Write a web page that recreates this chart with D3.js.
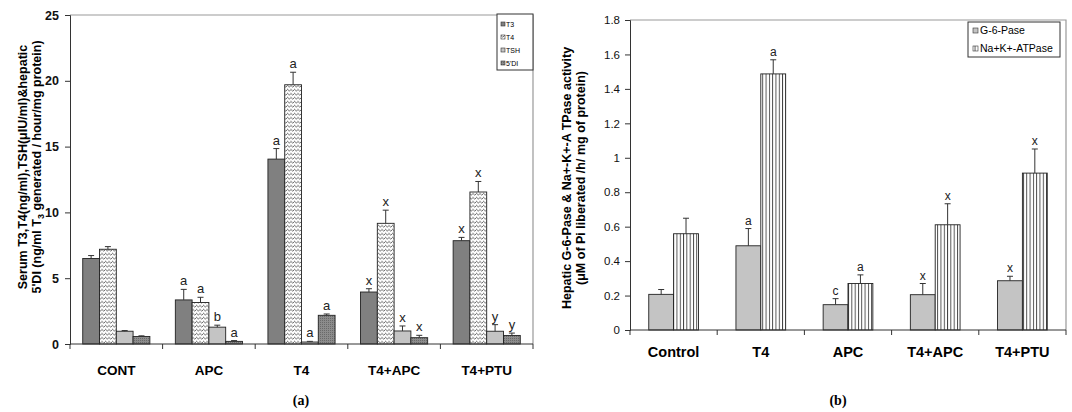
<!DOCTYPE html>
<html>
<head>
<meta charset="utf-8">
<script src="https://cdn.jsdelivr.net/npm/d3@7"></script>
<style>
  body { margin: 0; background: #fff; }
  text { font-family: "Liberation Sans", Arial, sans-serif; }
</style>
</head>
<body>
<script>
const width = 1072, height = 412;

// panel (a): thyroid hormones and 5'DI
const groupsA = ["CONT", "APC", "T4", "T4+APC", "T4+PTU"];
const seriesA = ["T3", "T4", "TSH", "5'DI"];
const meanT3 = [6.5, 3.35, 14.05, 3.95, 7.85];
const errT3 = [0.22, 0.8, 0.8, 0.25, 0.25];
const meanT4 = [7.2, 3.15, 19.7, 9.17, 11.55];
const errT4 = [0.2, 0.4, 0.95, 1.0, 0.8];
const meanTSH = [0.97, 1.28, 0.15, 0.99, 0.97];
const errTSH = [0.05, 0.15, 0.05, 0.38, 0.5];
const meanDI = [0.57, 0.2, 2.18, 0.48, 0.65];
const errDI = [0.05, 0.06, 0.1, 0.18, 0.18];
const lettersT3 = ["", "a", "a", "x", "x"];
const lettersT4 = ["", "a", "a", "x", "x"];
const lettersTSH = ["", "b", "a", "x", "y"];
const lettersDI = ["", "a", "a", "x", "y"];
const ticksA = [0, 5, 10, 15, 20, 25];

// panel (b): G-6-Pase and Na+K+-ATPase
const groupsB = ["Control", "T4", "APC", "T4+APC", "T4+PTU"];
const seriesB = ["G-6-Pase", "Na+K+-ATPase"];
const meanG6P = [0.207, 0.489, 0.147, 0.205, 0.286];
const errG6P = [0.028, 0.1, 0.035, 0.065, 0.026];
const meanNaK = [0.559, 1.487, 0.27, 0.611, 0.911];
const errNaK = [0.09, 0.082, 0.05, 0.122, 0.14];
const lettersG6P = ["", "a", "c", "x", "x"];
const lettersNaK = ["", "a", "a", "x", "x"];
const ticksB = [0, 0.2, 0.4, 0.6, 0.8, 1, 1.2, 1.4, 1.6, 1.8];

const svg = d3.select('body').append('svg')
  .attr('width', width)
  .attr('height', height);

// fill patterns
const defs = svg.append('defs');
const wave = defs.append('pattern').attr('id', 'wave')
  .attr('patternUnits', 'userSpaceOnUse').attr('width', 3.5).attr('height', 4);
wave.append('rect').attr('width', 3.5).attr('height', 4).attr('fill', '#fff');
wave.append('path').attr('d', 'M0,0.8 L2.3,3.2 L3.5,2')
  .attr('fill', 'none').attr('stroke', '#444').attr('stroke-width', 0.8);

const dots = defs.append('pattern').attr('id', 'dots')
  .attr('patternUnits', 'userSpaceOnUse').attr('width', 2).attr('height', 2);
dots.append('rect').attr('width', 2).attr('height', 2).attr('fill', '#8c8c8c');
dots.append('rect').attr('width', 1).attr('height', 1).attr('fill', '#6a6a6a');

const vlines = defs.append('pattern').attr('id', 'vlines')
  .attr('patternUnits', 'userSpaceOnUse').attr('width', 3.3).attr('height', 4);
vlines.append('rect').attr('width', 3.3).attr('height', 4).attr('fill', '#fff');
vlines.append('line').attr('x1', 0.5).attr('x2', 0.5).attr('y1', 0).attr('y2', 4)
  .attr('stroke', '#111').attr('stroke-width', 0.8);

// ---------- panel (a) ----------
const mA = { left: 70, right: 533, top: 15, bottom: 344 };
const xA = d3.scaleBand().domain(groupsA).range([mA.left, mA.right]).paddingInner(0.275).paddingOuter(0.1375);
const xA0 = d3.scaleBand().domain(seriesA).range([0, xA.bandwidth()]);
const yA = d3.scaleLinear().domain([0, 25]).range([mA.bottom, mA.top]);

const fillsA = ['#808080', 'url(#wave)', '#c4c4c4', 'url(#dots)'];
const rowsA = [];
groupsA.forEach((g, i) => {
  [[meanT3, errT3, lettersT3], [meanT4, errT4, lettersT4], [meanTSH, errTSH, lettersTSH], [meanDI, errDI, lettersDI]]
    .forEach(([m, e, l], j) => rowsA.push({ g, s: seriesA[j], j, v: m[i], e: e[i], l: l[i] }));
});

const gA = svg.append('g');
// plot frame
gA.append('path')
  .attr('d', `M${mA.left},${mA.top}H${mA.right}V${mA.bottom}`)
  .attr('fill', 'none').attr('stroke', '#999').attr('stroke-width', 1.2);

drawBars(gA, rowsA, xA, xA0, yA, fillsA, 13);

gA.append('g').attr('transform', `translate(0,${mA.bottom})`)
  .call(d3.axisBottom(xA).tickSize(0).tickFormat(''))
  .call(g => g.select('.domain').attr('stroke', '#333').attr('d', `M${mA.left},0H${mA.right}`));
// category separators
gA.selectAll('line.sep').data(d3.range(groupsA.length + 1)).join('line')
  .attr('x1', i => mA.left + i * xA.step()).attr('x2', i => mA.left + i * xA.step())
  .attr('y1', mA.bottom).attr('y2', mA.bottom + 5).attr('stroke', '#333');

gA.append('g').attr('transform', `translate(${mA.left},0)`)
  .call(d3.axisLeft(yA).tickValues(ticksA).tickSize(5).tickPadding(6))
  .call(g => g.selectAll('line, path').attr('stroke', '#333'))
  .call(g => g.selectAll('text').attr('font-size', 12.5).attr('font-weight', 'bold').attr('fill', '#111'));

gA.selectAll('text.cat').data(groupsA).join('text')
  .attr('x', d => xA(d) + xA.bandwidth() / 2).attr('y', 375)
  .attr('text-anchor', 'middle').attr('font-size', 13.5).attr('font-weight', 'bold')
  .text(d => d);

const labA = gA.append('text').attr('transform', 'translate(27,167) rotate(-90)')
  .attr('text-anchor', 'middle').attr('font-size', 12.5).attr('font-weight', 'bold');
labA.append('tspan').attr('x', 0).attr('dy', 0).text('Serum T3,T4(ng/ml),TSH(μIU/ml)&hepatic');
const l2 = labA.append('tspan').attr('x', 0).attr('dy', 13.5);
l2.append('tspan').text("5'DI (ng/ml T");
l2.append('tspan').attr('font-size', 9).attr('dy', 3).text('3');
l2.append('tspan').attr('dy', -3).text(' generated / hour/mg protein)');

// legend (a)
const legA = gA.append('g').attr('transform', 'translate(497,14)');
legA.append('rect').attr('width', 36).attr('height', 56)
  .attr('fill', '#fff').attr('stroke', '#333');
seriesA.forEach((s, i) => {
  legA.append('rect').attr('x', 4).attr('y', 8 + i * 13).attr('width', 4).attr('height', 4)
    .attr('fill', fillsA[i]).attr('stroke', '#333').attr('stroke-width', 0.6);
  legA.append('text').attr('x', 9).attr('y', 13 + i * 13)
    .attr('font-size', 7).text(s);
});

svg.append('text').attr('x', 301).attr('y', 405).attr('text-anchor', 'middle')
  .attr('font-size', 14).attr('font-weight', 'bold')
  .style('font-family', '"Liberation Serif", serif').text('(a)');

// ---------- panel (b) ----------
const mB = { left: 630, right: 1066, top: 20, bottom: 330 };
const xB = d3.scaleBand().domain(groupsB).range([mB.left, mB.right]).paddingInner(0.43).paddingOuter(0.215);
const xB0 = d3.scaleBand().domain(seriesB).range([0, xB.bandwidth()]);
const yB = d3.scaleLinear().domain([0, 1.8]).range([mB.bottom, mB.top]);
const fillsB = ['#c4c4c4', 'url(#vlines)'];

const rowsB = [];
groupsB.forEach((g, i) => {
  [[meanG6P, errG6P, lettersG6P], [meanNaK, errNaK, lettersNaK]]
    .forEach(([m, e, l], j) => rowsB.push({ g, s: seriesB[j], j, v: m[i], e: e[i], l: l[i] }));
});

const gB = svg.append('g');
gB.append('path')
  .attr('d', `M${mB.left},${mB.top}H${mB.right}V${mB.bottom}`)
  .attr('fill', 'none').attr('stroke', '#999').attr('stroke-width', 1.2);

drawBars(gB, rowsB, xB, xB0, yB, fillsB, 12);

gB.append('g').attr('transform', `translate(0,${mB.bottom})`)
  .call(d3.axisBottom(xB).tickSize(0).tickFormat(''))
  .call(g => g.select('.domain').attr('stroke', '#333').attr('d', `M${mB.left},0H${mB.right}`));
gB.selectAll('line.sep').data(d3.range(groupsB.length + 1)).join('line')
  .attr('x1', i => mB.left + i * xB.step()).attr('x2', i => mB.left + i * xB.step())
  .attr('y1', mB.bottom).attr('y2', mB.bottom + 5).attr('stroke', '#333');

gB.append('g').attr('transform', `translate(${mB.left},0)`)
  .call(d3.axisLeft(yB).tickValues(ticksB).tickSize(5).tickPadding(5).tickFormat(d3.format('')))
  .call(g => g.selectAll('line, path').attr('stroke', '#333'))
  .call(g => g.selectAll('text').attr('font-size', 11.5).attr('fill', '#111'));

gB.selectAll('text.cat').data(groupsB).join('text')
  .attr('x', d => xB(d) + xB.bandwidth() / 2).attr('y', 357)
  .attr('text-anchor', 'middle').attr('font-size', 14.5).attr('font-weight', 'bold')
  .text(d => d);

const labB = gB.append('text').attr('transform', 'translate(571,178) rotate(-90)')
  .attr('text-anchor', 'middle').attr('font-size', 12.5).attr('font-weight', 'bold');
labB.append('tspan').attr('x', 0).attr('dy', 0).text('Hepatic G-6-Pase & Na+-K+-A TPase activity');
labB.append('tspan').attr('x', 0).attr('dy', 14).text('(μM of Pi liberated /h/ mg of protein)');

const legB = gB.append('g').attr('transform', 'translate(968,22)');
legB.append('rect').attr('width', 92).attr('height', 35)
  .attr('fill', '#fff').attr('stroke', '#333');
seriesB.forEach((s, i) => {
  legB.append('rect').attr('x', 5).attr('y', 6 + i * 18).attr('width', 5).attr('height', 5)
    .attr('fill', fillsB[i]).attr('stroke', '#333').attr('stroke-width', 0.6);
  legB.append('text').attr('x', 12).attr('y', 12 + i * 18)
    .attr('font-size', 10.5).text(s);
});

svg.append('text').attr('x', 838).attr('y', 405).attr('text-anchor', 'middle')
  .attr('font-size', 14).attr('font-weight', 'bold')
  .style('font-family', '"Liberation Serif", serif').text('(b)');

function drawBars(g, rows, x, x0, y, fills, fs) {
  const bw = x0.bandwidth();
  const bars = g.append('g');
  bars.selectAll('rect').data(rows).join('rect')
    .attr('x', d => x(d.g) + x0(d.s)).attr('y', d => y(d.v))
    .attr('width', bw).attr('height', d => y(0) - y(d.v))
    .attr('fill', d => fills[d.j]).attr('stroke', '#222').attr('stroke-width', 0.9);
  const cx = d => x(d.g) + x0(d.s) + bw / 2;
  bars.selectAll('line.err').data(rows).join('line').attr('class', 'err')
    .attr('x1', cx).attr('x2', cx)
    .attr('y1', d => y(d.v)).attr('y2', d => y(d.v + d.e))
    .attr('stroke', '#333').attr('stroke-width', 1);
  bars.selectAll('line.cap').data(rows).join('line').attr('class', 'cap')
    .attr('x1', d => cx(d) - 3).attr('x2', d => cx(d) + 3)
    .attr('y1', d => y(d.v + d.e)).attr('y2', d => y(d.v + d.e))
    .attr('stroke', '#333').attr('stroke-width', 1);
  bars.selectAll('text.sig').data(rows.filter(d => d.l)).join('text').attr('class', 'sig')
    .attr('x', cx).attr('y', d => y(d.v + d.e) - 4)
    .attr('text-anchor', 'middle').attr('font-size', fs).attr('fill', '#222')
    .text(d => d.l);
}
</script>
</body>
</html>
